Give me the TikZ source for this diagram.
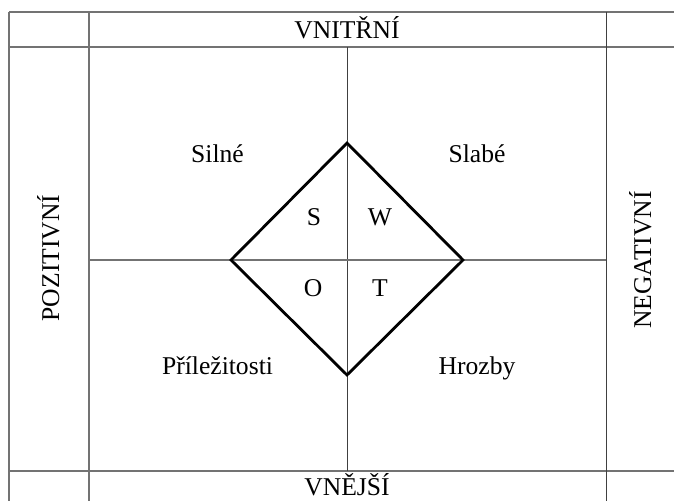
\documentclass[tikz,border=0pt]{standalone}
\usepackage{fontspec}
\setmainfont{Liberation Serif}
\begin{document}
\begin{tikzpicture}[x=1pt,y=-1pt,
  grid/.style={draw=black!55,line width=1.1pt},
  axis/.style={draw=black!75,line width=1pt},
  swot/.style={draw=black,line width=2.8pt,line join=miter},
  lbl/.style={inner sep=0pt,anchor=base,font=\fontsize{25.6}{30}\selectfont},
  side/.style={inner sep=0pt,anchor=base,rotate=90,font=\fontsize{25.6}{30}\selectfont}]
\useasboundingbox[fill=white] (0,0) rectangle (674,501);
% frame coordinates
\coordinate (tl) at (9,12);
\coordinate (tr) at (674,12);
\coordinate (hl) at (9,47);
\coordinate (hr) at (674,47);
\coordinate (bl) at (9,471);
\coordinate (br) at (674,471);
\coordinate (ol) at (9,501);
\coordinate (i1t) at (89,12);
\coordinate (i1b) at (89,501);
\coordinate (i2t) at (606,12);
\coordinate (i2b) at (606,501);
\coordinate (mt) at (347,47);
\coordinate (mb) at (347,471);
\coordinate (ml) at (89,260);
\coordinate (mr) at (606,260);
% table lines
\draw[grid] (tl) -- (tr);
\draw[grid] (hl) -- (hr);
\draw[grid] (bl) -- (br);
\draw[grid] (tl) -- (ol);
\draw[grid] (i1t) -- (i1b);
\draw[axis] (i2t) -- (i2b);
\draw[axis] (mt) -- (mb);
\draw[grid] (ml) -- (mr);
% diamond
\coordinate (dt) at (347,143);
\coordinate (dr) at (463,260);
\coordinate (db) at (347,375);
\coordinate (dl) at (231,260);
\draw[swot] (dt) -- (dr) -- (db) -- (dl) -- cycle;
% labels
\node[lbl] (vn) at (347,38) {VNITŘNÍ};
\node[lbl] (ve) at (347,495) {VNĚJŠÍ};
\node[side] (po) at (59,258) {POZITIVNÍ};
\node[side] (ne) at (651,260) {NEGATIVNÍ};
\node[lbl] (si) at (217.5,162) {Silné};
\node[lbl] (sl) at (477,162) {Slabé};
\node[lbl] (pr) at (217.5,374) {Příležitosti};
\node[lbl] (hr2) at (477,374) {Hrozby};
\node[lbl] (s) at (314,225) {S};
\node[lbl] (w) at (380,225) {W};
\node[lbl] (o) at (313,296) {O};
\node[lbl] (t) at (380,296) {T};
\end{tikzpicture}
\end{document}
